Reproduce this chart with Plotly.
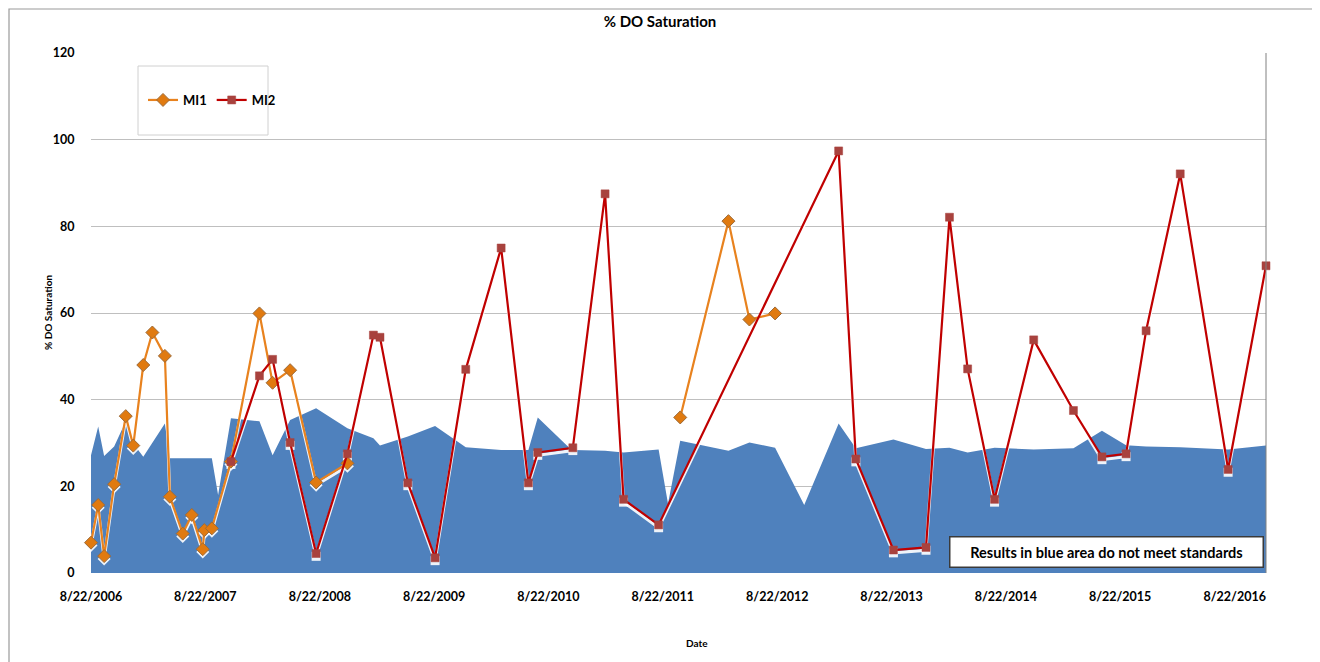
import plotly.graph_objects as go

# ---------------- data ----------------
mi1_dates = ["2006-08-22", "2006-09-14", "2006-10-03", "2006-11-04", "2006-12-11",
             "2007-01-04", "2007-02-05", "2007-03-06", "2007-04-15", "2007-05-01",
             "2007-06-11", "2007-07-10", "2007-08-14", "2007-08-19", "2007-09-12",
             "2007-11-12", "2008-02-11", "2008-03-24", "2008-05-19", "2008-08-10",
             "2008-11-18", "2010-01-01", "2011-10-17", "2012-03-19", "2012-05-25",
             "2012-08-15"]
mi1_values = [7.0, 15.7, 3.9, 20.5, 36.2,
              29.4, 48.0, 55.5, 50.1, 17.6,
              9.1, 13.4, 5.5, 9.9, 10.3,
              25.7, 59.9, 43.9, 46.8, 20.9,
              25.3, None, 35.9, 81.2, 58.5,
              59.9]

mi2_dates = ["2007-11-12", "2008-02-11", "2008-03-24", "2008-05-19", "2008-08-10",
             "2008-11-18", "2009-02-09", "2009-03-02", "2009-05-30", "2009-08-25",
             "2009-12-01", "2010-03-24", "2010-06-19", "2010-07-19", "2010-11-08",
             "2011-02-19", "2011-04-19", "2011-08-09", "2013-03-06", "2013-04-30",
             "2013-08-28", "2013-12-10", "2014-02-23", "2014-04-22", "2014-07-17",
             "2014-11-19", "2015-03-26", "2015-06-25", "2015-09-10", "2015-11-13",
             "2016-03-01", "2016-08-01", "2016-11-30"]
mi2_values = [25.7, 45.5, 49.3, 30.1, 4.5,
              27.5, 54.9, 54.4, 20.8, 3.5,
              47.0, 75.0, 20.8, 27.8, 28.9,
              87.5, 17.0, 11.1, 97.4, 26.3,
              5.3, 5.9, 82.1, 47.1, 17.0,
              53.8, 37.5, 26.8, 27.5, 55.9,
              92.1, 23.9, 70.9]

std_dates = ["2006-08-22", "2006-09-14", "2006-10-03", "2006-11-04", "2006-12-11",
             "2007-01-04", "2007-02-05", "2007-04-15", "2007-05-01", "2007-09-12",
             "2007-10-02", "2007-11-12", "2008-02-11", "2008-03-24", "2008-05-19",
             "2008-08-10", "2008-11-18", "2009-02-09", "2009-03-02", "2009-05-30",
             "2009-08-25", "2009-12-01", "2010-03-24", "2010-06-19", "2010-07-19",
             "2010-10-20", "2010-11-08", "2011-02-19", "2011-04-19", "2011-08-09",
             "2011-09-08", "2011-10-17", "2012-03-19", "2012-05-25", "2012-08-15",
             "2012-11-16", "2013-03-06", "2013-04-30", "2013-08-28", "2013-12-10",
             "2014-02-23", "2014-04-22", "2014-07-17", "2014-11-19", "2015-03-26",
             "2015-06-25", "2015-09-10", "2015-11-13", "2016-03-01", "2016-08-01",
             "2016-11-30"]
std_values = [27.2, 33.8, 27.0, 29.2, 35.0,
              29.9, 26.8, 34.5, 26.5, 26.5,
              18.0, 35.7, 35.0, 27.2, 35.3,
              38.0, 33.4, 31.1, 29.4, 31.5,
              33.9, 29.0, 28.4, 28.4, 35.9,
              29.4, 28.4, 28.2, 27.8, 28.5,
              16.0, 30.5, 28.2, 30.1, 28.9,
              15.7, 34.5, 28.8, 30.8, 28.6,
              28.9, 27.8, 28.9, 28.5, 28.8,
              32.8, 29.5, 29.2, 29.0, 28.5,
              29.4]

tick_dates = ["2006-08-22", "2007-08-22", "2008-08-22", "2009-08-22", "2010-08-22",
              "2011-08-22", "2012-08-22", "2013-08-22", "2014-08-22", "2015-08-22",
              "2016-08-22"]
tick_labels = ["8/22/2006", "8/22/2007", "8/22/2008", "8/22/2009", "8/22/2010",
               "8/22/2011", "8/22/2012", "8/22/2013", "8/22/2014", "8/22/2015",
               "8/22/2016"]
y_ticks = [0, 20, 40, 60, 80, 100, 120]

FONT = "Lato, Open Sans, sans-serif"
BLUE = "#4F81BD"
ORANGE = "#E8821E"
RED = "#C00000"

fig = go.Figure()

# standard (blue area)
fig.add_trace(go.Scatter(x=std_dates, y=std_values, mode="lines", fill="tozeroy",
                         fillcolor=BLUE, line=dict(width=0, color=BLUE),
                         showlegend=False, hoverinfo="skip"))

# white shadows under the lines
def shadow(vals):
    return [None if v is None else v - 0.65 for v in vals]

fig.add_trace(go.Scatter(x=mi1_dates, y=shadow(mi1_values), mode="lines+markers",
                         line=dict(color="rgba(255,255,255,0.9)", width=3),
                         marker=dict(symbol="diamond", size=10, color="rgba(255,255,255,0.9)"),
                         connectgaps=False, showlegend=False, hoverinfo="skip",
                         cliponaxis=False))
fig.add_trace(go.Scatter(x=mi2_dates, y=shadow(mi2_values), mode="lines+markers",
                         line=dict(color="rgba(255,255,255,0.9)", width=3),
                         marker=dict(symbol="square", size=9, color="rgba(255,255,255,0.9)"),
                         showlegend=False, hoverinfo="skip", cliponaxis=False))

fig.add_trace(go.Scatter(x=mi1_dates, y=mi1_values, mode="lines+markers", name="<b>MI1</b>",
                         line=dict(color=ORANGE, width=2.2),
                         marker=dict(symbol="diamond", size=10, color="#E07A10",
                                     line=dict(color="#9C6B3A", width=1)),
                         connectgaps=False, cliponaxis=False))
fig.add_trace(go.Scatter(x=mi2_dates, y=mi2_values, mode="lines+markers", name="<b>MI2</b>",
                         line=dict(color=RED, width=2.2),
                         marker=dict(symbol="square", size=8, color="#A8423E",
                                     line=dict(color="#A8423E", width=0.5)),
                         cliponaxis=False))

# The page has an 8px body margin: figure pixel p appears at screen pixel p + 8.
OFF = 8
FW, FH = 1312, 654
# plot area in screen pixels: left 91, right 1266, top 53, bottom 573
L, R, T, B = 91, 1266, 53, 573
W, H = R - L, B - T

def px_x(p):
    return (p - L) / W

def px_y(p):
    return (B - p) / H

fig.update_layout(
    width=FW, height=FH,
    margin=dict(l=L - OFF, r=FW - (R - OFF), t=T - OFF, b=FH - (B - OFF), pad=0),
    paper_bgcolor="white", plot_bgcolor="white",
    font=dict(family=FONT, color="#000000"),
    title=dict(text="<b>% DO Saturation</b>", x=(660 - OFF) / FW, xref="container",
               xanchor="center", y=1 - (22 - OFF) / FH, yref="container", yanchor="middle",
               font=dict(size=15, family=FONT, color="#000000")),
    xaxis=dict(type="date", range=["2006-08-22", "2016-11-30"],
               tickvals=tick_dates, ticktext=["<b>%s</b>" % t for t in tick_labels],
               tickangle=0, tickfont=dict(size=12.5, family=FONT), showgrid=False,
               zeroline=False, showline=False, ticks="outside", ticklen=12,
               tickcolor="rgba(0,0,0,0)"),
    yaxis=dict(range=[0, 120], tickvals=y_ticks,
               ticktext=["<b>%d</b>" % v for v in y_ticks],
               tickfont=dict(size=12.5, family=FONT), showgrid=True, gridcolor="#BFBFBF",
               gridwidth=1, zeroline=False, showline=False, ticks="outside",
               ticklen=13, tickcolor="rgba(0,0,0,0)"),
    legend=dict(orientation="h", x=px_x(143), y=px_y(100), xanchor="left", yanchor="middle",
                bgcolor="rgba(0,0,0,0)", borderwidth=0,
                font=dict(size=13, family=FONT), itemwidth=30, tracegroupgap=0),
    showlegend=True,
)

# legend box
fig.add_shape(type="rect", xref="paper", yref="paper",
              x0=px_x(138), x1=px_x(268), y0=px_y(135), y1=px_y(66),
              line=dict(color="#D0D0D0", width=1), fillcolor="rgba(0,0,0,0)", layer="below")

# right border of plot area
fig.add_shape(type="line", xref="paper", yref="paper", x0=1, x1=1, y0=0, y1=1,
              line=dict(color="#808080", width=1))

# outer chart border
fig.add_shape(type="rect", xref="paper", yref="paper",
              x0=px_x(9), x1=px_x(1317), y0=px_y(720), y1=px_y(9),
              line=dict(color="#9A9A9A", width=1.2), fillcolor="rgba(0,0,0,0)")

# axis titles
fig.add_annotation(text="<b>% DO Saturation</b>", xref="paper", yref="paper",
                   x=px_x(48), y=0.5, textangle=-90, showarrow=False,
                   font=dict(size=10, family=FONT), xanchor="center", yanchor="middle")
fig.add_annotation(text="<b>Date</b>", xref="paper", yref="paper",
                   x=px_x(697), y=px_y(643), showarrow=False,
                   font=dict(size=10, family=FONT), xanchor="center", yanchor="middle")

# note box
fig.add_annotation(text="<b>Results in blue area do not meet standards</b>",
                   xref="paper", yref="paper", x=px_x(1264), y=px_y(552),
                   xanchor="right", yanchor="middle", showarrow=False,
                   font=dict(size=14.5, family=FONT, color="#000000"),
                   bgcolor="white", bordercolor="#3A3A3A", borderwidth=1.5,
                   borderpad=6, width=300)

fig.write_html("out.html")
